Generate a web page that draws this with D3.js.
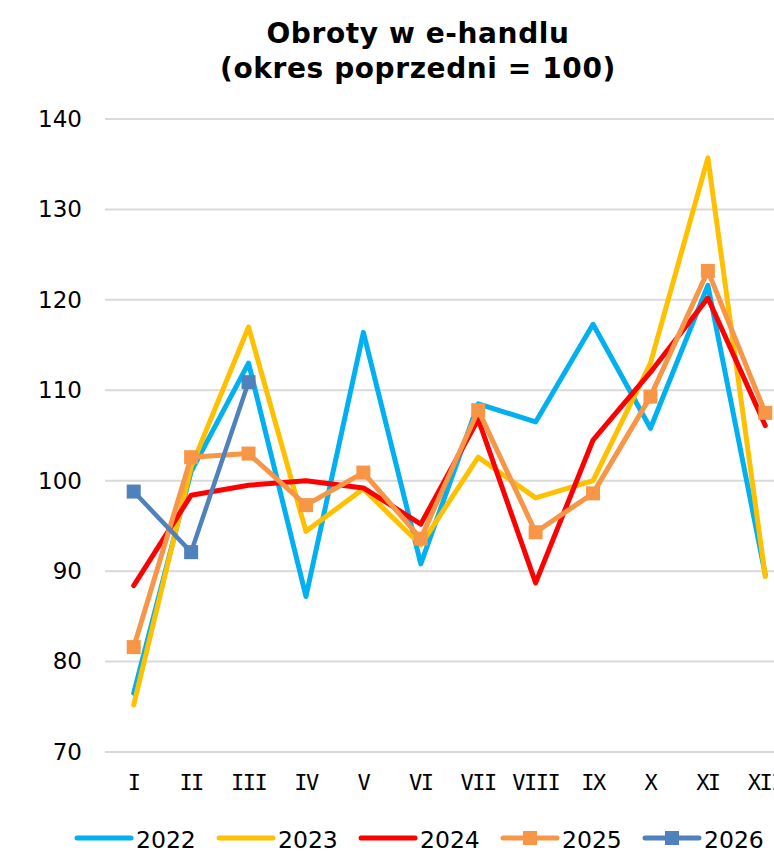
<!DOCTYPE html>
<html>
<head>
<meta charset="utf-8">
<script src="https://cdn.jsdelivr.net/npm/d3@7"></script>
<style>
  body { margin: 0; background: #fff; }
  #chart { width: 774px; height: 852px; overflow: hidden; }
  text { font-family: "DejaVu Sans", Verdana, sans-serif; }
</style>
</head>
<body>
<div id="chart"></div>
<script>
var width = 774, height = 852;

// data
var months = ["I", "II", "III", "IV", "V", "VI", "VII", "VIII", "IX", "X", "XI", "XII"];
var yTicks = [70, 80, 90, 100, 110, 120, 130, 140];
var s2022 = [76.5, 101, 113, 87.2, 116.4, 90.8, 108.5, 106.5, 117.3, 105.8, 121.6, 89.6];
var s2023 = [75.2, 101.5, 117, 94.4, 99.1, 92.9, 102.6, 98.1, 100, 113, 135.7, 89.4];
var s2024 = [88.4, 98.4, 99.5, 100, 99.2, 95.2, 106.8, 88.7, 104.5, 112, 120.2, 106.1];
var s2025 = [81.6, 102.6, 103, 97.3, 100.9, 93.6, 107.8, 94.3, 98.6, 109.3, 123.2, 107.5];
var s2026 = [98.8, 92.1, 110.9];

var series = [
  { name: "2022", values: s2022, color: "#00B0F0", width: 5, marker: false },
  { name: "2023", values: s2023, color: "#FFC000", width: 5, marker: false },
  { name: "2024", values: s2024, color: "#FF0000", width: 5, marker: false },
  { name: "2025", values: s2025, color: "#F79646", width: 5, marker: true },
  { name: "2026", values: s2026, color: "#4F81BD", width: 4.5, marker: true }
];

var svg = d3.select("#chart")
            .append("svg")
            .attr("width", width)
            .attr("height", height);

// title
svg.append("text")
   .attr("x", 418).attr("y", 43)
   .attr("text-anchor", "middle")
   .style("font-size", "28px").style("font-weight", "bold")
   .style("letter-spacing", "0.6px")
   .text("Obroty w e-handlu");
svg.append("text")
   .attr("x", 418).attr("y", 78)
   .attr("text-anchor", "middle")
   .style("font-size", "28px").style("font-weight", "bold")
   .style("letter-spacing", "0.6px")
   .text("(okres poprzedni = 100)");

var x = d3.scaleBand().domain(months).range([105, 794]);
var y = d3.scaleLinear().domain([70, 140]).range([752, 119]);
var cx = function(i) { return x(months[i]) + x.bandwidth() / 2; };

// gridlines
svg.append("g").selectAll("line")
   .data(yTicks)
   .enter().append("line")
   .attr("x1", 105).attr("x2", 794)
   .attr("y1", function(d) { return y(d); })
   .attr("y2", function(d) { return y(d); })
   .style("stroke", "#d9d9d9").style("stroke-width", 2);

// axes
var yAxis = svg.append("g")
   .attr("transform", "translate(105,0)")
   .call(d3.axisLeft(y).tickValues(yTicks).tickSize(0).tickPadding(23));
yAxis.select(".domain").remove();
yAxis.selectAll("text").style("font-size", "23px").style("fill", "#000")
     .style("font-family", "'DejaVu Sans', Verdana, sans-serif");

var xAxis = svg.append("g")
   .attr("transform", "translate(0,752)")
   .call(d3.axisBottom(x).tickSize(0).tickPadding(22));
xAxis.select(".domain").remove();
xAxis.selectAll("text").style("font-size", "22px").style("fill", "#000")
     .style("font-family", "'DejaVu Sans Mono', monospace")
     .style("letter-spacing", "-1.5px");

// lines
var line = d3.line()
   .x(function(d, i) { return cx(i); })
   .y(function(d) { return y(d); });

series.forEach(function(s) {
  svg.append("path")
     .datum(s.values)
     .attr("d", line)
     .attr("fill", "none")
     .style("stroke", s.color)
     .style("stroke-width", s.width)
     .style("stroke-linejoin", "round")
     .style("stroke-linecap", "round");
  if (s.marker) {
    svg.append("g").selectAll("rect")
       .data(s.values)
       .enter().append("rect")
       .attr("x", function(d, i) { return cx(i) - 7; })
       .attr("y", function(d) { return y(d) - 7; })
       .attr("width", 14).attr("height", 14)
       .attr("fill", s.color);
  }
});

// legend
var legend = svg.append("g").selectAll("g")
   .data(series)
   .enter().append("g")
   .attr("transform", function(d, i) { return "translate(" + (77 + i * 142) + ",838)"; });
legend.append("line")
   .attr("x1", 0).attr("x2", 54)
   .style("stroke", function(d) { return d.color; })
   .style("stroke-width", 5)
   .style("stroke-linecap", "round");
legend.filter(function(d) { return d.marker; })
   .append("rect")
   .attr("x", 20).attr("y", -7).attr("width", 14).attr("height", 14)
   .attr("fill", function(d) { return d.color; });
legend.append("text")
   .attr("x", 59).attr("y", 10)
   .style("font-size", "23.5px")
   .text(function(d) { return d.name; });
</script>
</body>
</html>
